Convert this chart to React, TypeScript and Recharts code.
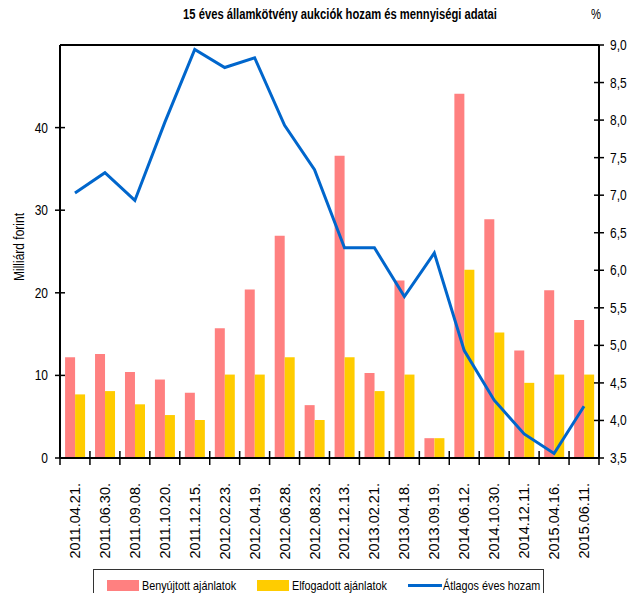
import React from 'react'
import { ComposedChart, Bar, Line, XAxis, YAxis, ReferenceLine } from 'recharts'

const FONT = '"Liberation Sans", Arial, sans-serif'
const NARROW = 0.8

const dates = [
  '2011.04.21.', '2011.06.30.', '2011.09.08.', '2011.10.20.', '2011.12.15.',
  '2012.02.23.', '2012.04.19.', '2012.06.28.', '2012.08.23.', '2012.12.13.',
  '2013.02.21.', '2013.04.18.', '2013.09.19.', '2014.06.12.', '2014.10.30.',
  '2014.12.11.', '2015.04.16.', '2015.06.11.',
]
const submitted = [12.2, 12.6, 10.4, 9.5, 7.9, 15.7, 20.4, 26.9, 6.4, 36.6, 10.3, 21.5, 2.4, 44.1, 28.9, 13.0, 20.3, 16.7]
const accepted = [7.7, 8.1, 6.5, 5.2, 4.6, 10.1, 10.1, 12.2, 4.6, 12.2, 8.1, 10.1, 2.4, 22.8, 15.2, 9.1, 10.1, 10.1]
const yields = [7.03, 7.3, 6.93, 7.97, 8.94, 8.7, 8.83, 7.93, 7.34, 6.3, 6.3, 5.65, 6.23, 4.93, 4.27, 3.82, 3.56, 4.19]

const leftTicks = [0, 10, 20, 30, 40]
const rightTicks = [3.5, 4, 4.5, 5, 5.5, 6, 6.5, 7, 7.5, 8, 8.5, 9]

const PINK = '#FF8080'
const YELLOW = '#FFCC00'
const BLUE = '#0066CC'

const data = dates.map((d, i) => ({
  date: d,
  submitted: submitted[i],
  accepted: accepted[i],
  yield: yields[i],
}))

function LeftTick({ x, y, payload }: any) {
  const ax = x + 8
  const tx = x - 4
  return (
    <g>
      <line x1={ax - 5} x2={ax + 5} y1={y} y2={y} stroke="#000" strokeWidth={1.5} />
      <text
        x={0} y={0} dy={5} textAnchor="end" fontSize={15} fontFamily={FONT} fill="#000"
        transform={`translate(${tx}, ${y}) scale(${NARROW}, 1)`}
      >
        {payload.value}
      </text>
    </g>
  )
}

function RightTick({ x, y, payload }: any) {
  const ax = x - 8
  const tx = x + 3
  return (
    <g>
      <line x1={ax - 5} x2={ax + 5} y1={y} y2={y} stroke="#000" strokeWidth={1.5} />
      <text
        x={0} y={0} dy={5} textAnchor="start" fontSize={15} fontFamily={FONT} fill="#000"
        transform={`translate(${tx}, ${y}) scale(${NARROW}, 1)`}
      >
        {Number(payload.value).toFixed(1).replace('.', ',')}
      </text>
    </g>
  )
}

function BottomTick({ x, y, payload, index }: any) {
  const ay = y - 8
  const half = payload.offset || 15
  const tx = x + 5
  const ty = ay + 25
  return (
    <g>
      <line x1={x - half} x2={x - half} y1={ay - 7} y2={ay + 7} stroke="#000" strokeWidth={1.5} />
      {index === dates.length - 1 && (
        <line x1={x + half} x2={x + half} y1={ay - 7} y2={ay + 7} stroke="#000" strokeWidth={1.5} />
      )}
      <text
        x={tx}
        y={ty}
        textAnchor="end"
        fontSize={14.5}
        fontFamily={FONT}
        fill="#000"
        transform={`rotate(-90, ${tx}, ${ty})`}
      >
        {payload.value}
      </text>
    </g>
  )
}

const narrowText = (extra: React.CSSProperties): React.CSSProperties => ({
  position: 'absolute', whiteSpace: 'nowrap', fontFamily: FONT,
  transform: `scaleX(${NARROW})`, transformOrigin: 'left center', ...extra,
})

export default function App() {
  return (
    <div style={{ position: 'relative', width: 631, height: 593, overflow: 'hidden', background: '#fff' }}>
      <style>{`body{margin:0}`}</style>
      <div
        style={{
          position: 'absolute', left: 340, top: 6, whiteSpace: 'nowrap',
          transform: `translateX(-50%) scaleX(${NARROW})`,
          fontFamily: FONT, fontWeight: 'bold', fontSize: 14,
        }}
      >
        15 éves államkötvény aukciók hozam és mennyiségi adatai
      </div>
      <div style={narrowText({ left: 591, top: 6, fontSize: 14 })}>%</div>
      <div
        style={{
          position: 'absolute', left: 18, top: 247, whiteSpace: 'nowrap',
          transform: `translate(-50%, -50%) rotate(-90deg) scaleX(${NARROW})`,
          fontFamily: FONT, fontSize: 15,
        }}
      >
        Milliárd forint
      </div>

      <ComposedChart
        width={631}
        height={593}
        data={data}
        margin={{ top: 45, right: 0, bottom: 35, left: 20 }}
        barGap={0}
        barCategoryGap="17%"
      >
        <XAxis
          dataKey="date"
          interval={0}
          height={100}
          tickSize={5}
          tickMargin={3}
          tickLine={false}
          tick={<BottomTick />}
          axisLine={{ stroke: '#000', strokeWidth: 2 }}
        />
        <YAxis
          yAxisId="left"
          domain={[0, 50]}
          ticks={leftTicks}
          width={40}
          tickSize={5}
          tickMargin={3}
          tickLine={false}
          tick={<LeftTick />}
          axisLine={{ stroke: '#000', strokeWidth: 2 }}
        />
        <YAxis
          yAxisId="right"
          orientation="right"
          domain={[3.5, 9]}
          ticks={rightTicks}
          width={32}
          tickSize={5}
          tickMargin={3}
          tickLine={false}
          tick={<RightTick />}
          axisLine={{ stroke: '#000', strokeWidth: 2 }}
        />
        <ReferenceLine yAxisId="left" y={50} stroke="#000" strokeWidth={2} />
        <Bar yAxisId="left" dataKey="submitted" fill={PINK} isAnimationActive={false} />
        <Bar yAxisId="left" dataKey="accepted" fill={YELLOW} isAnimationActive={false} />
        <Line
          yAxisId="right"
          dataKey="yield"
          stroke={BLUE}
          strokeWidth={3}
          dot={false}
          type="linear"
          isAnimationActive={false}
        />
      </ComposedChart>

      <div
        style={{
          position: 'absolute', left: 93, top: 569, width: 451, height: 34,
          border: '1px solid #333', boxSizing: 'border-box', fontSize: 13.5,
        }}
      >
        <div style={{ position: 'absolute', left: 13, top: 10, width: 32, height: 11, background: PINK }} />
        <div style={narrowText({ left: 48, top: 8 })}>Benyújtott ajánlatok</div>
        <div style={{ position: 'absolute', left: 163, top: 10, width: 32, height: 11, background: YELLOW }} />
        <div style={narrowText({ left: 198, top: 8 })}>Elfogadott ajánlatok</div>
        <div style={{ position: 'absolute', left: 314, top: 14, width: 34, height: 3, background: BLUE }} />
        <div style={narrowText({ left: 349, top: 8 })}>Átlagos éves hozam</div>
      </div>
    </div>
  )
}
